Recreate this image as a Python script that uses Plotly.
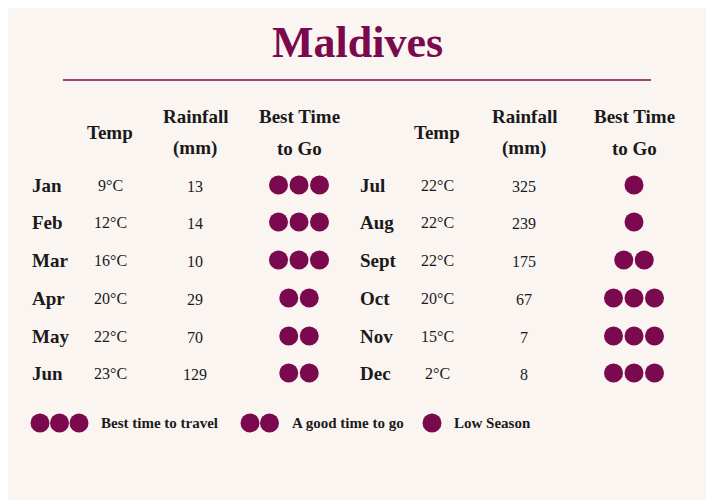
import plotly.graph_objects as go

months_l = ["Jan", "Feb", "Mar", "Apr", "May", "Jun"]
temp_l = [9, 12, 16, 20, 22, 23]
rain_l = [13, 14, 10, 29, 70, 129]
best_l = [3, 3, 3, 2, 2, 2]

months_r = ["Jul", "Aug", "Sept", "Oct", "Nov", "Dec"]
temp_r = [22, 22, 22, 20, 15, 2]
rain_r = [325, 239, 175, 67, 7, 8]
best_r = [1, 1, 2, 3, 3, 3]

legend_counts = [3, 2, 1]
legend_labels = ["Best time to travel", "A good time to go", "Low Season"]

PLUM = "#7a0a4d"
INK = "#1a1a1a"
BG = "#fbf5f2"
SERIF = "Liberation Serif"
row_y = [185, 222, 260, 298, 336, 373]
gap = 20.5

fig = go.Figure()
ann = []

def txt(x, y, s, size=16, bold=False, color=INK, anchor="center"):
    ann.append(dict(x=x, y=y, text=f"<b>{s}</b>" if bold else s, showarrow=False,
                    xanchor=anchor, yanchor="middle",
                    font=dict(family=SERIF, size=size, color=color)))

dot_x, dot_y = [], []
for months, temps, rains, best, (mx, tx, rx, bx) in [
    (months_l, temp_l, rain_l, best_l, (30, 110, 195, 299)),
    (months_r, temp_r, rain_r, best_r, (358, 437, 524, 634)),
]:
    txt(tx, 132, "Temp", 19, True)
    txt(rx, 116, "Rainfall", 19, True)
    txt(rx, 148, "(mm)", 19, True)
    txt(bx, 116, "Best Time", 19, True)
    txt(bx, 148, "to Go", 19, True)
    for y, m, t, r, b in zip(row_y, months, temps, rains, best):
        txt(mx, y, m, 19, True, anchor="left")
        txt(tx, y, f"{t}°C", 16)
        txt(rx, y + 1, str(r), 16)
        for k in range(b):
            dot_x.append(bx + (k - (b - 1) / 2) * gap)
            dot_y.append(y)

lx = [40, 250, 432]
for x0, c, lab in zip(lx, legend_counts, legend_labels):
    for k in range(c):
        dot_x.append(x0 + k * 19.5)
        dot_y.append(423)
    txt(x0 + (c - 1) * 19.5 + 20, 423, lab, 15, True, anchor="left")

fig.add_trace(go.Scatter(x=dot_x, y=dot_y, mode="markers", hoverinfo="skip",
                         marker=dict(size=19, color=PLUM)))

txt(357, 42, "Maldives", 44, True, PLUM)
fig.add_shape(type="line", x0=63, x1=651, y0=80, y1=80, line=dict(color=PLUM, width=1.5))

fig.update_layout(width=714, height=500, margin=dict(l=0, r=0, t=0, b=0),
                  paper_bgcolor=BG, plot_bgcolor=BG, showlegend=False, annotations=ann)
# page body adds an 8px offset; shift the coordinate window to compensate
fig.update_xaxes(range=[8, 722], visible=False, fixedrange=True)
fig.update_yaxes(range=[508, 8], visible=False, fixedrange=True)
fig.write_html("out.html")
